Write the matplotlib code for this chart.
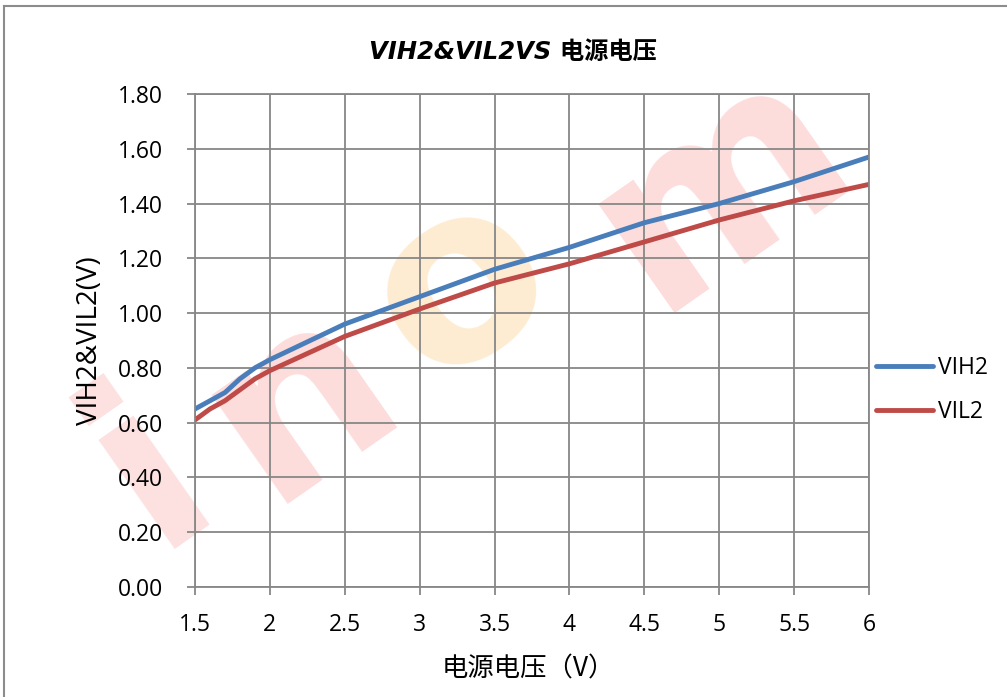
import numpy as np
import matplotlib
matplotlib.use('Agg')
import matplotlib.pyplot as plt
from matplotlib.lines import Line2D

plt.rcParams['font.family'] = ['Open Sans', 'Noto Sans CJK SC', 'DejaVu Sans']

# data
voltage = [1.5, 1.6, 1.7, 1.8, 1.9, 2.0, 2.5, 3.0, 3.5, 4.0, 4.5, 5.0, 5.5, 6.0]
vih2 = [0.65, 0.68, 0.71, 0.76, 0.80, 0.83, 0.96, 1.06, 1.16, 1.24, 1.33, 1.40, 1.48, 1.57]
vil2 = [0.61, 0.65, 0.68, 0.72, 0.76, 0.79, 0.915, 1.015, 1.11, 1.18, 1.26, 1.34, 1.41, 1.47]
x_ticks = [1.5, 2, 2.5, 3, 3.5, 4, 4.5, 5, 5.5, 6]
x_tick_labels = ['1.5', '2', '2.5', '3', '3.5', '4', '4.5', '5', '5.5', '6']
y_ticks = [0, 0.2, 0.4, 0.6, 0.8, 1.0, 1.2, 1.4, 1.6, 1.8]

W, H = 1007, 697
grey = '#878787'
blue = '#4a7ebb'
red = '#be4b48'


def fx(px):
    return px / W


def fy(py):
    return 1 - py / H


fig = plt.figure(figsize=(W / 100, H / 100), dpi=100)

# faint watermark behind the plot
watermark = [('i', 150, 470, '#fde0e0'), ('n', 300, 400, '#fddcdc'),
             ('o', 460, 285, '#feecd2'), ('m', 720, 185, '#fddcdc')]
for ch, px, py, c in watermark:
    fig.text(fx(px), fy(py), ch, fontsize=175, fontweight='bold', color=c,
             rotation=35, ha='center', va='center', family='DejaVu Sans',
             zorder=-5)

# chart border (top and left edges visible)
fig.add_artist(Line2D([fx(3.5), fx(3.5)], [fy(697), fy(6)],
                      transform=fig.transFigure, color='#8c8c8c', lw=1.5))
fig.add_artist(Line2D([fx(3.5), fx(1007)], [fy(6), fy(6)],
                      transform=fig.transFigure, color='#8c8c8c', lw=1.5))

ax = fig.add_axes([fx(195), fy(587), (869 - 195) / W, (587 - 94) / H])
ax.patch.set_alpha(0)
ax.plot(voltage, vih2, color=blue, lw=3.5, solid_capstyle='round',
        solid_joinstyle='round', label='VIH2')
ax.plot(voltage, vil2, color=red, lw=3.5, solid_capstyle='round',
        solid_joinstyle='round', label='VIL2')

ax.set_xlim(1.5, 6)
ax.set_ylim(0, 1.8)
ax.set_xticks(x_ticks)
ax.set_xticklabels(x_tick_labels)
ax.set_yticks(y_ticks)
ax.set_yticklabels(['%.2f' % v for v in y_ticks])
ax.grid(True, color=grey, lw=1.3)
ax.set_axisbelow(True)
for s in ax.spines.values():
    s.set_color(grey)
    s.set_linewidth(1.3)
ax.tick_params(axis='both', direction='out', length=6, width=1.3, color=grey,
               labelsize=16.5)
ax.tick_params(axis='y', pad=17)
ax.tick_params(axis='x', pad=13)

ax.legend(loc='center left', bbox_to_anchor=(fx(876), fy(390)),
          bbox_transform=fig.transFigure, frameon=False, fontsize=16.5,
          handlelength=2.5, handletextpad=0.2, labelspacing=0.9,
          borderpad=0, borderaxespad=0)

fig.text(fx(513), fy(52), 'VIH2&VIL2VS 电源电压', family=['DejaVu Sans', 'Noto Sans CJK SC'],
         fontweight='bold', style='italic', fontsize=17.5, ha='center', va='center')
fig.text(fx(90), fy(341), 'VIH2&VIL2(V)', rotation=90, fontsize=20,
         ha='center', va='center')
fig.text(fx(528), fy(669), '电源电压（V）', family=['Noto Sans CJK SC', 'DejaVu Sans'],
         fontsize=19, ha='center', va='center')

fig.savefig('out.png', dpi=100)
